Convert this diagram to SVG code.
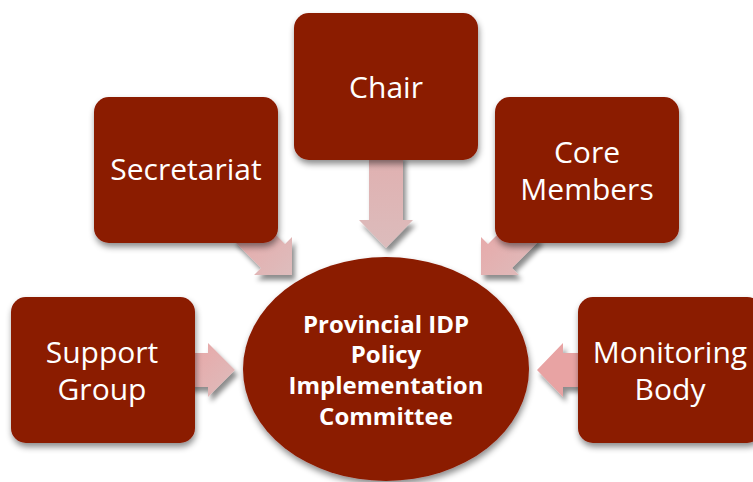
<svg xmlns="http://www.w3.org/2000/svg" width="753" height="482" viewBox="0 0 753 482">
<defs>
<filter id="sh" x="-20%" y="-20%" width="140%" height="140%">
<feDropShadow dx="1" dy="4" stdDeviation="3" flood-color="#000" flood-opacity="0.45"/>
</filter>
<filter id="ash" x="-30%" y="-30%" width="160%" height="160%">
<feDropShadow dx="3" dy="5" stdDeviation="2.5" flood-color="#000" flood-opacity="0.45"/>
</filter>
<linearGradient id="ag" x1="0" y1="0" x2="1" y2="1">
<stop offset="0" stop-color="#e9a6a6"/>
<stop offset="1" stop-color="#ddbdbd"/>
</linearGradient>
<linearGradient id="agv" x1="0" y1="0" x2="0" y2="1">
<stop offset="0" stop-color="#e0b0b0"/>
<stop offset="1" stop-color="#dcbcbc"/>
</linearGradient>
</defs>
<style>
.box{fill:#8b1a00;filter:url(#sh)}
.arr{fill:url(#ag);filter:url(#ash)}
.lbl{font-family:"Open Sans","Liberation Sans",sans-serif;font-size:30px;fill:#fff;text-anchor:middle}
.bold{font-family:"Open Sans","Liberation Sans",sans-serif;font-size:24px;font-weight:bold;fill:#fff;text-anchor:middle}
</style>
<g id="connectors">
<path class="arr" style="fill:url(#agv)" d="M369,155 V220 H359 L386,248 L413,220 H403 V155 Z"/>
<path class="arr" d="M257,216 L285,244 L292,237 L292,275 L254,275 L261,268 L233,240 Z"/>
<path class="arr" d="M516,216 L488,244 L481,237 L481,275 L519,275 L512,268 L540,240 Z"/>
<path class="arr" d="M188,353 H208 V343 L235,370 L208,397 V387 H188 Z"/>
<path class="arr" style="fill:#e8a3a3" d="M584,353 H563 V343 L537,370 L563,397 V387 H584 Z"/>
</g>
<g id="chair">
<rect class="box" x="294" y="13" width="184" height="147" rx="15"/>
<text class="lbl" x="386" y="98">Chair</text>
</g>
<g id="secretariat">
<rect class="box" x="94" y="97" width="184" height="146" rx="15"/>
<text class="lbl" x="186" y="180">Secretariat</text>
</g>
<g id="core-members">
<rect class="box" x="495" y="97" width="184" height="146" rx="15"/>
<text class="lbl" x="587" y="163">Core</text>
<text class="lbl" x="587" y="200">Members</text>
</g>
<g id="support-group">
<rect class="box" x="11" y="297" width="184" height="146" rx="15"/>
<text class="lbl" x="102" y="363">Support</text>
<text class="lbl" x="102" y="400">Group</text>
</g>
<g id="monitoring-body">
<rect class="box" x="578" y="297" width="184" height="146" rx="15"/>
<text class="lbl" x="670" y="363">Monitoring</text>
<text class="lbl" x="670" y="400">Body</text>
</g>
<g id="committee">
<ellipse class="box" cx="386" cy="369" rx="143" ry="112"/>
<text class="bold" x="386" y="333">Provincial IDP</text>
<text class="bold" x="386" y="363">Policy</text>
<text class="bold" x="386" y="394">Implementation</text>
<text class="bold" x="386" y="425">Committee</text>
</g>
</svg>
